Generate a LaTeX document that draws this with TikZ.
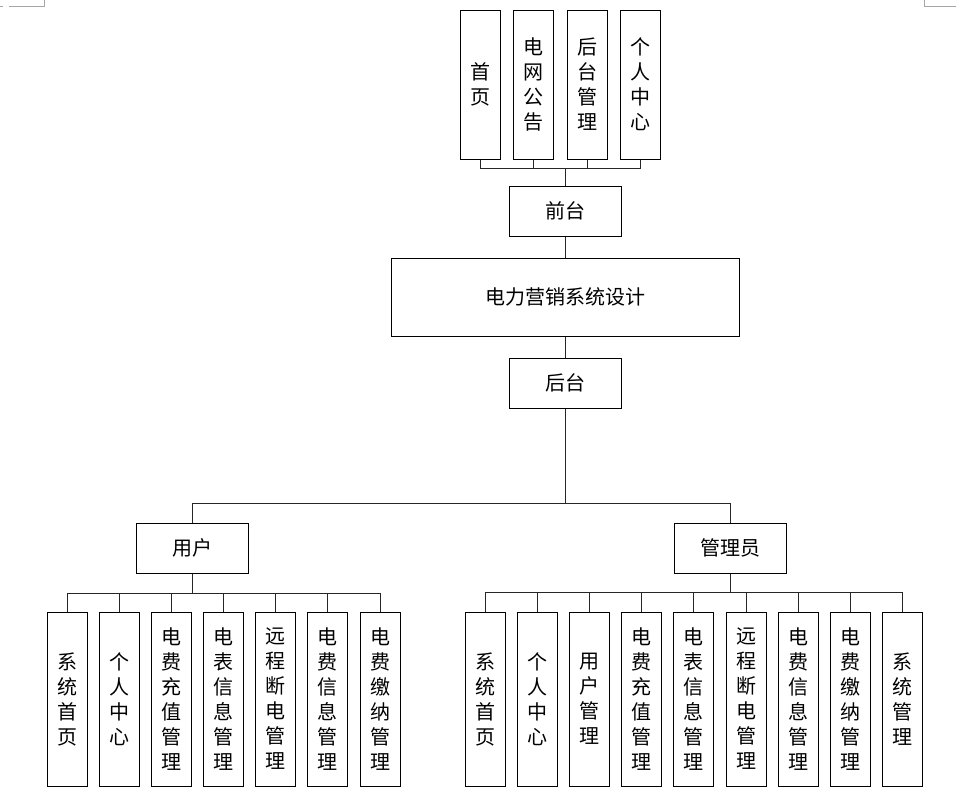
\documentclass[tikz,border=0pt]{standalone}
\usepackage{fontspec}
\newfontfamily\cjk{Noto Sans CJK SC}
\usetikzlibrary{positioning}
\begin{document}
\begin{tikzpicture}[x=1pt,y=-1pt,
    box/.style={draw,line width=1pt,inner sep=0pt,align=center,font=\cjk\fontsize{20}{25}\selectfont},
    vbox/.style={box,minimum width=40pt},
    hbox/.style={box,minimum width=112pt,minimum height=50pt},
    link/.style={line width=1pt,black!85}]
    \useasboundingbox (0,0) rectangle (956,798);
    \draw[gray!70,line width=1pt] (0,6)--(3,6) (9,6)--(44,6)--(44,0) (924,0)--(924,6)--(956,6);%页面角标

    \foreach\n/\x/\t in{t1/480.5/{首\\页},t2/533.5/{电\\网\\公\\告},t3/587/{后\\台\\管\\理},t4/640.5/{个\\人\\中\\心}}
        \node[vbox,minimum height=149pt](\n)at(\x,84.5){\t};%前台模块
    \node[hbox](qt)at(565,211){前台};
    \node[box,minimum width=348pt,minimum height=78pt](sys)at(565,297){电力营销系统设计};
    \node[hbox](ht)at(565,383){后台};
    \node[hbox](yh)at(192.5,548){用户};
    \node[hbox](gly)at(730,548){管理员};

    \foreach\n/\x/\t in{u1/67/{系\\统\\首\\页},u2/119/{个\\人\\中\\心},u3/171/{电\\费\\充\\值\\管\\理},
        u4/223/{电\\表\\信\\息\\管\\理},u5/275/{远\\程\\断\\电\\管\\理},u6/327/{电\\费\\信\\息\\管\\理},u7/380/{电\\费\\缴\\纳\\管\\理}}
        \node[vbox,minimum height=174pt](\n)at(\x,699){\t};%用户模块
    \foreach\n/\x/\t in{a1/485/{系\\统\\首\\页},a2/537/{个\\人\\中\\心},a3/589/{用\\户\\管\\理},a4/641/{电\\费\\充\\值\\管\\理},
        a5/693/{电\\表\\信\\息\\管\\理},a6/746/{远\\程\\断\\电\\管\\理},a7/798/{电\\费\\信\\息\\管\\理},a8/850/{电\\费\\缴\\纳\\管\\理},a9/902/{系\\统\\管\\理}}
        \node[vbox,minimum height=174pt](\n)at(\x,699){\t};%管理员模块

    \coordinate(tbus)at(qt.north|-0,168);
    \coordinate(hbus)at(ht.south|-0,503);
    \coordinate(ubus)at(yh.south|-0,593);
    \coordinate(abus)at(gly.south|-0,592);
    \draw[link](qt.north)--(tbus);
    \foreach\P in{t1,t2,t3,t4}\draw[link](\P.south)|-(tbus);
    \draw[link](qt.south)--(sys.north);
    \draw[link](sys.south)--(ht.north);
    \draw[link](ht.south)--(hbus);
    \foreach\P in{yh,gly}\draw[link](\P.north)|-(hbus);
    \draw[link](yh.south)--(ubus);
    \foreach\P in{u1,u2,u3,u4,u5,u6,u7}\draw[link](\P.north)|-(ubus);
    \draw[link](gly.south)--(abus);
    \foreach\P in{a1,a2,a3,a4,a5,a6,a7,a8,a9}\draw[link](\P.north)|-(abus);
\end{tikzpicture}
\end{document}
